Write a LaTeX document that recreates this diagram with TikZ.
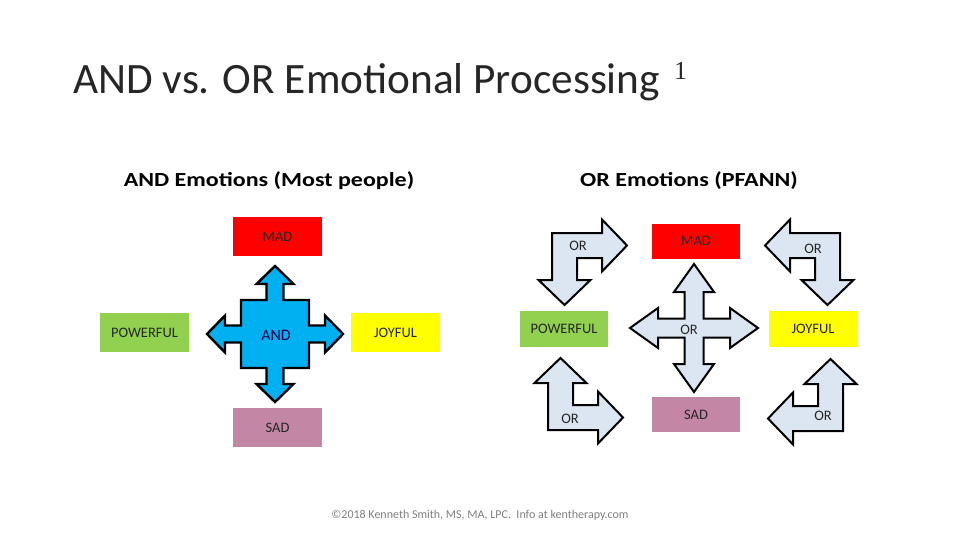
\documentclass[tikz,border=0pt]{standalone}
\usepackage{fontspec}
\setmainfont{Carlito}
\newfontfamily\onefont{Liberation Serif}

\definecolor{madred}{HTML}{FF0000}
\definecolor{powgreen}{HTML}{92D050}
\definecolor{joyyellow}{HTML}{FFFF00}
\definecolor{sadpink}{HTML}{C386A5}
\definecolor{andblue}{HTML}{00B0F0}
\definecolor{orblue}{HTML}{DCE6F2}

\begin{document}
\begin{tikzpicture}[x=1pt,y=-1pt,
  emobox/.style={minimum width=89pt,minimum height=39pt,inner sep=0pt,
    font=\fontsize{14.5}{16}\selectfont,text=black!85},
  orlabel/.style={inner sep=0pt,font=\fontsize{14.5}{16}\selectfont,text=black!85},
  headline/.style={font=\fontsize{20}{24}\selectfont\bfseries,xscale=1.2,transform shape},
  pics/bentarrow/.style={code={
    \path[pic actions] (0,0) -- (50,0) -- (50,-13.5) -- (75,12.5) -- (50,38.5)
      -- (50,25) -- (25,25) -- (25,47) -- (38.5,47) -- (12.5,72)
      -- (-13.5,47) -- (0,47) -- cycle;}},
  pics/crossarrow/.style n args={5}{code={
    % #1 ctverec, #2 driek, #3 hlava, #4 zacatek hlavy, #5 spicka
    \path[pic actions] (-#1,-#1) -- (-#2,-#1) -- (-#2,-#4) -- (-#3,-#4) -- (0,-#5)
      -- (#3,-#4) -- (#2,-#4) -- (#2,-#1) -- (#1,-#1) -- (#1,-#2) -- (#4,-#2)
      -- (#4,-#3) -- (#5,0) -- (#4,#3) -- (#4,#2) -- (#1,#2) -- (#1,#1)
      -- (#2,#1) -- (#2,#4) -- (#3,#4) -- (0,#5) -- (-#3,#4) -- (-#2,#4)
      -- (-#2,#1) -- (-#1,#1) -- (-#1,#2) -- (-#4,#2) -- (-#4,#3) -- (-#5,0)
      -- (-#4,-#3) -- (-#4,-#2) -- (-#1,-#2) -- cycle;}}
]
  \useasboundingbox[fill=white] (0,0) rectangle (960,540);

  % --- NADPISY ---
  \node[anchor=base west,inner sep=0pt,font=\fontsize{43.3}{50}\selectfont,text=black!85]
    (title) at (73,94) {AND vs. OR Emotional Processing};
  \node[anchor=base west,inner sep=0pt,font=\onefont\fontsize{26}{30}\selectfont,text=black!85]
    (titlenote) at (674,80) {1};
  \node[headline] (andhead) at (269,181) {AND Emotions (Most people)};
  \node[headline] (orhead) at (689,181) {OR Emotions (PFANN)};

  % --- LEVA STRANA: AND ---
  \pic[draw=black,fill=andblue,line width=2.4pt,line join=miter] at (275,334)
    {crossarrow={34}{8.5}{18.5}{50}{68}};
  \node[inner sep=0pt,font=\fontsize{16}{18}\selectfont,text=black!70!blue] (and) at (276,335) {AND};

  \node[emobox,fill=madred] (mad) at (277.5,236.5) {MAD};
  \node[emobox,fill=powgreen] (powerful) at (144.5,332.5) {POWERFUL};
  \node[emobox,fill=joyyellow] (joyful) at (395.5,332.5) {JOYFUL};
  \node[emobox,fill=sadpink] (sad) at (277.5,427.5) {SAD};

  % --- PRAVA STRANA: OR ---
  \pic[draw=black,fill=orblue,line width=2pt,line join=miter] at (694,328)
    {crossarrow={9.5}{9.5}{20}{36}{64}};
  \node[orlabel] (orcenter) at (689,330) {OR};

  % zahnute sipky v rozich
  \pic[draw=black,fill=orblue,line width=2pt,line join=miter] at (552,233) {bentarrow};
  \pic[draw=black,fill=orblue,line width=2pt,line join=miter,xscale=-1] at (840,233) {bentarrow};
  \pic[draw=black,fill=orblue,line width=2pt,line join=miter,yscale=-1] at (548,430) {bentarrow};
  \pic[draw=black,fill=orblue,line width=2pt,line join=miter,xscale=-1,yscale=-1] at (843,431) {bentarrow};
  \node[orlabel] (ortl) at (578,246) {OR};
  \node[orlabel] (ortr) at (813,249) {OR};
  \node[orlabel] (orbl) at (570,419) {OR};
  \node[orlabel] (orbr) at (823,416) {OR};

  \node[emobox,fill=madred,minimum width=88pt,minimum height=35pt] (madR) at (696,241) {MAD};
  \node[emobox,fill=powgreen,minimum width=88pt,minimum height=36pt] (powerfulR) at (564,329) {POWERFUL};
  \node[emobox,fill=joyyellow,minimum width=88pt,minimum height=36pt] (joyfulR) at (813,329) {JOYFUL};
  \node[emobox,fill=sadpink,minimum width=88pt,minimum height=35pt] (sadR) at (696,414.5) {SAD};

  % --- PATICKA ---
  \node[font=\fontsize{12}{14}\selectfont,text=black!50] (footer) at (480,515)
    {©2018 Kenneth Smith, MS, MA, LPC.\ \ Info at kentherapy.com};
\end{tikzpicture}
\end{document}
